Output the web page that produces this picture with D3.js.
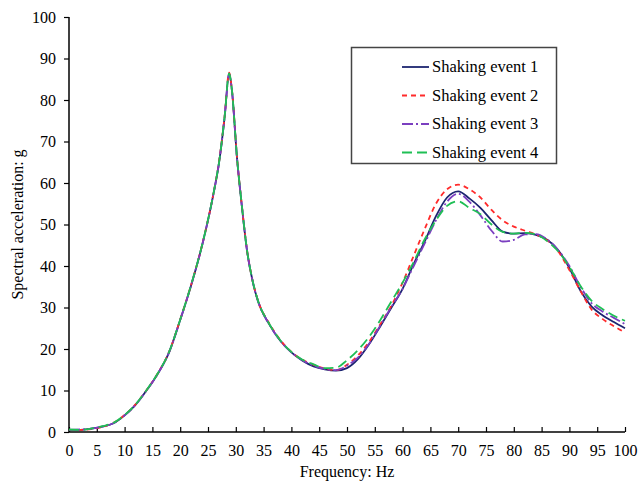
<!DOCTYPE html>
<html><head><meta charset="utf-8">
<script src="https://cdn.jsdelivr.net/npm/d3@7"></script>
<style>body{margin:0;background:#fff;} svg{display:block;}</style>
</head><body>
<script>
const freq = [0,2,4,6,8,10,12,14,16,18,20,22,24,26,27,28,28.8,29.3,30.2,31.1,32,33,34,36,38,40,42,44,46,48,50,52,54,56,58,60,62,64,66,68,70,72,74,76,78,80,82,84,86,88,90,92,94,96,98,100];
const event1 = [0.5,0.5,0.8,1.3,2.1,4.0,6.6,10.1,14.1,19.2,27,35.5,45.3,57.5,65,76,86.5,82.4,66.3,54.3,43.9,36.5,31.5,26,22,19.2,17.2,15.8,15.1,14.8,15.4,17.6,21.2,25.5,30,34.5,40.5,46,52,56.5,58,56.3,54,51,48.3,47.8,47.9,47.5,46.3,43.8,39.5,34,30.2,28.1,26.5,25];
const event2 = [0.5,0.5,0.7,1.2,2.2,4.1,6.7,10.2,14.2,19.3,27.1,35.6,45.4,57.6,65.2,76.2,86.6,82.5,66.5,54.4,44,36.6,31.6,26.2,22.2,19.3,17.4,16.2,15.3,14.9,16.2,18.5,21.8,26,30.5,36,42.5,49,55,58.5,59.6,58.5,56.5,53.5,51,49.5,48.5,47.6,46.2,43.5,39,34,29.5,27.2,25.5,24];
const event3 = [0.5,0.6,0.8,1.3,2.1,4.0,6.6,10.1,14.1,19.2,27,35.5,45.3,57.5,65,76,86.3,82.3,66.3,54.3,43.9,36.5,31.5,26,22,19.2,17.3,16,15.2,14.9,16,18,21.3,25.7,30.2,34.5,40,45.5,51,55.5,57.4,55.5,52.2,48.5,45.9,46.3,47.6,47.7,46.4,43.8,40,35,31,29,27.5,26];
const event4 = [0.6,0.5,0.8,1.4,2.2,4.1,6.7,10.2,14.2,19.3,27.1,35.6,45.4,57.6,65.1,76.1,86.4,82.4,66.4,54.4,44,36.6,31.6,26.1,22.1,19.3,17.4,16.3,15.4,15.5,17.3,19.8,23,27,31.5,36,41,46.5,51,54.5,55.6,54,52.5,50,48.2,47.8,48,47.6,46,43.5,39.8,35.2,31.6,29.6,28,26.8];
const seriesNames = ["Shaking event 1","Shaking event 2","Shaking event 3","Shaking event 4"];
const xTicks = d3.range(0, 101, 5);
const yTicks = d3.range(0, 101, 10);

const colors = ["#1c2570","#ff2b2b","#7b3fc0","#1fbf55"];
const dashes = [null, "5,4", "11,3,2,3", "10,5"];
const allSeries = [event1, event2, event3, event4];

const W = 638, H = 482;
const m = {left:69, right:13, top:17, bottom:50};
const svg = d3.select("body").append("svg").attr("width", W).attr("height", H);
const x = d3.scaleLinear().domain([0,100]).range([m.left, W - m.right]);
const y = d3.scaleLinear().domain([0,100]).range([H - m.bottom, m.top]);
const font = "'Liberation Serif','Times New Roman',serif";

// axes
const yAxis = svg.append("g").attr("transform", `translate(${m.left},0)`)
  .call(d3.axisLeft(y).tickValues(yTicks).tickSize(5).tickPadding(8).tickFormat(d3.format("d")));
const xAxis = svg.append("g").attr("transform", `translate(0,${H - m.bottom})`)
  .call(d3.axisBottom(x).tickValues(xTicks).tickSize(-5).tickPadding(13).tickFormat(d3.format("d")));
[xAxis, yAxis].forEach(g => {
  g.select(".domain").attr("stroke", "#000").attr("stroke-width", 1.5);
  g.selectAll(".tick line").attr("stroke", "#000").attr("stroke-width", 1.2);
  g.selectAll("text").attr("font-family", font).attr("font-size", 16).attr("fill", "#000");
});
yAxis.select(".domain").attr("d", `M0,${y(100)}V${y(0)}`);
xAxis.select(".domain").attr("d", `M${x(0)},0H${x(100)}`);

// lines
const line = d3.line().x((d,i) => x(freq[i])).y(d => y(d)).curve(d3.curveMonotoneX);
allSeries.forEach((s, k) => {
  svg.append("path").datum(s).attr("d", line)
    .attr("fill", "none").attr("stroke", colors[k]).attr("stroke-width", 1.8)
    .attr("stroke-dasharray", dashes[k]);
});

// axis titles
svg.append("text").attr("x", (x(0)+x(100))/2).attr("y", 477).attr("text-anchor","middle")
  .attr("font-family", font).attr("font-size", 16).text("Frequency: Hz");
svg.append("text").attr("transform", `translate(23,${(y(0)+y(100))/2}) rotate(-90)`)
  .attr("text-anchor","middle").attr("font-family", font).attr("font-size", 16)
  .text("Spectral acceleration: g");

// legend
const lg = svg.append("g");
lg.append("rect").attr("x", 351.5).attr("y", 47.5).attr("width", 205).attr("height", 116)
  .attr("fill", "#fff").attr("stroke", "#444").attr("stroke-width", 1.5);
seriesNames.forEach((n, k) => {
  const yy = 67 + k * 28.5;
  lg.append("line").attr("x1", 402).attr("x2", 429).attr("y1", yy).attr("y2", yy)
    .attr("stroke", colors[k]).attr("stroke-width", 1.8).attr("stroke-dasharray", dashes[k]);
  lg.append("text").attr("x", 432).attr("y", yy + 5).attr("font-family", font)
    .attr("font-size", 16.5).text(n);
});
</script>
</body></html>
